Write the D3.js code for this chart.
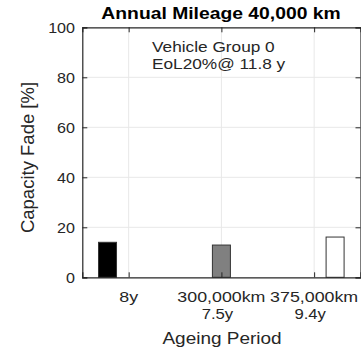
<!DOCTYPE html>
<html>
<head>
<meta charset="utf-8">
<script src="https://cdn.jsdelivr.net/npm/d3@7"></script>
<style>
  html, body { margin: 0; padding: 0; background: #fff; }
  svg { display: block; font-family: "Liberation Sans", Arial, sans-serif; }
</style>
</head>
<body>
<svg id="chart" width="361" height="347"></svg>
<script>
// Capacity fade per ageing period, one bar per scenario
const periods = ["8y", "300,000km", "375,000km"];
const periodSub = ["", "7.5y", "9.4y"];
const barSlots = [0.772, 2.0, 3.226];          // x position of each bar (category units)
const fadeValues = [14.0, 12.9, 16.1];         // capacity fade [%]
const barColors = ["#000000", "#808080", "#ffffff"];
const yTicks = [0, 20, 40, 60, 80, 100];
const titleText = "Annual Mileage 40,000 km";
const noteLines = ["Vehicle Group 0", "EoL20%@ 11.8 y"];
const xLabel = "Ageing Period";
const yLabel = "Capacity Fade [%]";

const svg = d3.select("#chart");
const m = { left: 82.3, right: 360.5, top: 27.3, bottom: 277.3 };
const ink = "#262626";
const SX = 1.15; // horizontal glyph stretch

const x = d3.scaleLinear().domain([0.5, 3.5]).range([m.left, m.right]);
const y = d3.scaleLinear().domain([0, 100]).range([m.bottom, m.top]);
const barW = x(0.694) - x(0.5);

function label(g, tx, ty, str, opts) {
  return g.append("text")
    .attr("transform", `translate(${tx},${ty}) scale(${SX},1)`)
    .attr("text-anchor", opts.anchor || "middle")
    .attr("font-size", opts.size)
    .attr("font-weight", opts.weight || "normal")
    .attr("fill", opts.fill || ink)
    .text(str);
}

// grid
const grid = svg.append("g").attr("stroke", "#e8e8e8").attr("stroke-width", 1);
grid.selectAll("line.gy").data(yTicks.slice(1, -1)).join("line")
  .attr("x1", m.left).attr("x2", m.right)
  .attr("y1", d => y(d)).attr("y2", d => y(d));
grid.selectAll("line.gx").data([1, 2, 3]).join("line")
  .attr("x1", d => x(d)).attr("x2", d => x(d))
  .attr("y1", m.top).attr("y2", m.bottom);

// bars
svg.append("g").selectAll("rect").data(fadeValues).join("rect")
  .attr("x", (d, i) => x(barSlots[i]) - barW / 2)
  .attr("width", barW)
  .attr("y", d => y(d))
  .attr("height", d => y(0) - y(d))
  .attr("fill", (d, i) => barColors[i])
  .attr("stroke", "#333")
  .attr("stroke-width", 1);

// axes (box with inward ticks on all sides)
const axL = svg.append("g").attr("transform", `translate(${m.left},0)`)
  .call(d3.axisLeft(y).tickValues(yTicks).tickSize(-5).tickFormat(""));
const axR = svg.append("g").attr("transform", `translate(${m.right},0)`)
  .call(d3.axisRight(y).tickValues(yTicks).tickSize(-5).tickFormat(""));
const axB = svg.append("g").attr("transform", `translate(0,${m.bottom})`)
  .call(d3.axisBottom(x).tickValues([1, 2, 3]).tickSize(-5).tickFormat(""));
const axT = svg.append("g").attr("transform", `translate(0,${m.top})`)
  .call(d3.axisTop(x).tickValues([1, 2, 3]).tickSize(-5).tickFormat(""));
[axL, axR, axB, axT].forEach(a => {
  a.selectAll("path").attr("stroke", ink).attr("stroke-width", 1.2);
  a.selectAll("line").attr("stroke", ink).attr("stroke-width", 1);
});

// y tick labels
const txt = svg.append("g");
yTicks.forEach(t => label(txt, 75, y(t) + 5.5, String(t), { anchor: "end", size: 14 }));

// x tick labels (two lines)
periods.forEach((p, i) => {
  label(txt, x(i + 1), 301.5, p, { size: 15.5 });
  if (periodSub[i]) label(txt, x(i + 1) - 4, 319.3, periodSub[i], { size: 14.5 });
});

// axis titles
label(txt, 222, 344, xLabel, { size: 16.5 });
txt.append("text")
  .attr("transform", `translate(34,157.5) rotate(-90)`)
  .attr("text-anchor", "middle")
  .attr("font-size", 18.5)
  .attr("fill", ink)
  .text(yLabel);

// title
label(txt, 221, 19.3, titleText, { size: 16.8, weight: "bold", fill: "#000" });

// annotation
noteLines.forEach((s, i) => label(txt, 152, 52 + i * 17, s, { anchor: "start", size: 15 }));
</script>
</body>
</html>
